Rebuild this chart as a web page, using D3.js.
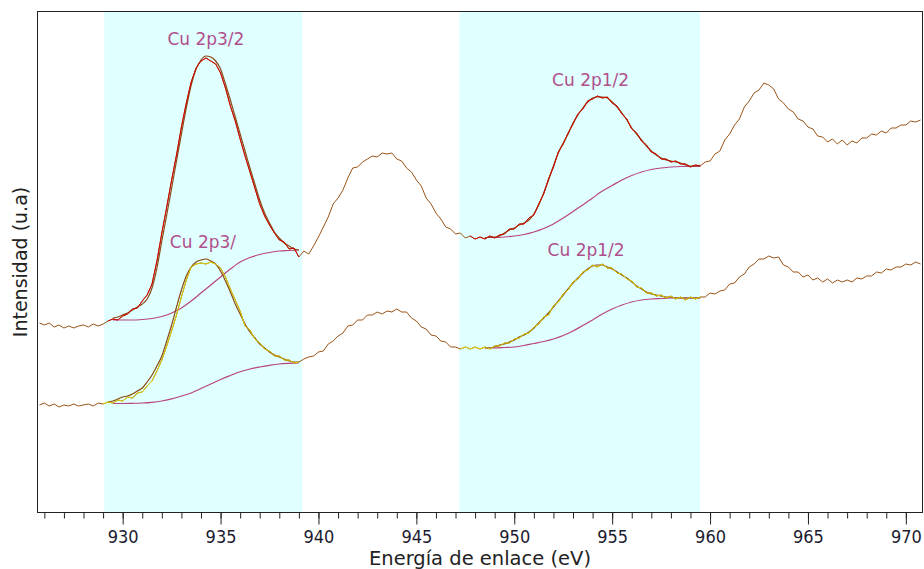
<!DOCTYPE html>
<html><head><meta charset="utf-8">
<script src="https://cdn.jsdelivr.net/npm/d3@7"></script>
<style>
html,body{margin:0;padding:0;background:#fff;}
svg{display:block;}
text{font-family:"DejaVu Sans",sans-serif;}
</style></head>
<body><svg id="chart" width="924" height="569"></svg>
<script>
// ---- data (binding energy in eV, intensity in arbitrary units) ----
const rawStart = 925.75, rawStep = 0.25;
const upperRaw = [190,188,190,186,188,185,187,185,187,188,186,189,187,189,
192,194,193,197,199,204,205,212,218,229,252,280,
306,333,358,386,410,431,445,452,455,452,449,440,
425,407,392,374,357,341,325,309,297,288,280,273,
271,264,265,256,262,259,267,276,286,296,309,315,
323,335,345,346,351,354,357,356,360,359,360,354,
352,345,341,333,327,315,309,300,294,286,284,279,
280,275,277,274,276,274,277,275,278,279,284,284,
289,289,295,298,309,319,334,346,361,369,380,389,
399,404,412,414,417,415,416,410,407,399,394,384,
380,372,368,361,359,354,354,351,352,349,349,346,
348,347,351,352,359,362,373,379,388,394,406,412,
420,423,430,428,424,414,410,404,401,394,392,386,
384,377,376,371,374,369,373,368,372,370,375,375,
379,378,382,380,385,385,388,388,392,391,393];
const lowerRaw = [108,110,107,109,106,108,107,109,107,108,109,107,110,109,
111,110,113,112,116,115,120,121,127,132,142,153,
167,182,198,216,233,246,249,250,249,251,249,245,
236,224,213,202,187,183,174,170,164,162,157,157,
153,153,150,151,154,156,157,161,162,169,172,177,
180,187,188,193,193,198,198,201,199,202,201,204,
201,201,195,192,186,184,178,177,172,171,166,166,
164,166,164,166,164,166,164,167,167,170,170,174,
175,179,180,186,189,196,198,207,211,219,223,231,
234,241,243,248,246,249,245,245,240,239,234,232,
226,225,220,220,217,218,215,217,214,216,213,216,
214,216,216,220,219,222,223,229,230,236,239,246,
249,254,254,257,255,256,248,246,241,241,236,238,
233,235,231,234,230,233,231,233,231,235,234,237,
237,241,240,244,243,246,246,249,248,251,249];

// fitted envelopes (0.25 eV steps)
const upperFit1Start = 929.5;
const upperFit1 = [195,196,198,200,203,206,209,214,225,245,272,298,325,352,379,405,428,444,453,457,456,452,444,429,413,396,379,362,345,329,313,300,290,281,275,270,267,264,263];
const upperFit2Start = 948.5;
const upperFit2 = [275,276,276,277,280,283,285,288,290,293,299,308,320,333,347,360,370,379,390,398,405,411,415,416,416,415,411,406,400,393,385,379,373,367,362,358,355,353,352,351,350,348,347,347,348];
const lowerFit1Start = 929.25;
const lowerFit1 = [111,112,114,116,117,119,122,125,131,138,147,157,172,188,206,223,237,246,251,253,254,252,249,242,232,221,209,199,189,181,175,169,165,161,158,156,154,152,151,151];
const lowerFit2Start = 948.5;
const lowerFit2 = [165,165,166,168,169,171,173,176,178,181,185,190,195,200,206,212,218,224,230,235,240,244,247,248,248,246,244,241,238,235,231,227,224,221,219,218,217,216,216,215,215,215,215,215,215];

// Shirley backgrounds (0.5 eV steps)
const upperBg1Start = 929.5;
const upperBg1 = [193,193,193,193.5,194.5,196.5,200,205,212,220,228,236,244,251,255.5,258.5,260.5,262,262.5,263];
const upperBg2Start = 948.5;
const upperBg2 = [275.5,275.5,276,277,278.5,281,284.5,289,295,301.5,308,315,322,327.5,333,337.5,341,343.5,345,346,346.5,346.5,346.5];
const lowerBg1Start = 929.5;
const lowerBg1 = [109.5,109.5,109.7,110,110.7,112,114.2,117,120,124.5,129,133.5,137.5,141.3,144,146,147.7,149,149.7,150.2];
const lowerBg2Start = 948.5;
const lowerBg2 = [165,165,165.5,166,167.5,169.5,171.5,174,177.5,182,187.5,193,199,204,208,211,213,214,214.5,215,215,215,215];

// fitting windows (eV)
const windowsUpper = [[929.1, 939.17], [947.6, 959.5]];
const windowsLower = [[929.0, 939.17], [947.2, 959.5]];
const bands = [[929.06, 939.17], [947.2, 959.48]];

// annotations: label, energy, intensity
const labelTexts = ["Cu 2p3/2", "Cu 2p3/", "Cu 2p1/2", "Cu 2p1/2"];
const labelEnergy = [934.25, 934.1, 953.9, 953.67];
const labelIntensity = [468, 265, 427, 257];

const xTicks = [930, 935, 940, 945, 950, 955, 960, 965, 970];
const xDomain = [925.65, 970.85];
const yDomain = [0, 502];
const xTitle = "Energía de enlace (eV)";
const yTitle = "Intensidad (u.a)";

// ---- drawing ----
const svg = d3.select("#chart");
const L = 37.5, R = 922.5, T = 11.5, B = 512.5;
const x = d3.scaleLinear().domain(xDomain).range([L, R]);
const y = d3.scaleLinear().domain(yDomain).range([513, 11]);

const toPts = (start, step, arr) => arr.map((v, i) => [start + i * step, v]);

svg.selectAll("rect.band").data(bands).join("rect")
  .attr("class", "band")
  .attr("x", d => x(d[0])).attr("y", T)
  .attr("width", d => x(d[1]) - x(d[0])).attr("height", B - T)
  .attr("fill", "#e0ffff");

const lineRaw = d3.line().x(d => x(d[0])).y(d => y(d[1]));
const lineSmooth = d3.line().x(d => x(d[0])).y(d => y(d[1])).curve(d3.curveMonotoneX);

const up = toPts(rawStart, rawStep, upperRaw);
const lo = toPts(rawStart, rawStep, lowerRaw);

const g = svg.append("g");
function path(pts, color, w, gen) {
  g.append("path").attr("d", (gen || lineRaw)(pts)).attr("fill", "none")
    .attr("stroke", color).attr("stroke-width", w).attr("stroke-linejoin", "round");
}
path(up, "#9a5418", 1);
path(lo, "#9a5418", 1);

const bgColor = "#b8447e";
path(toPts(upperBg1Start, 0.5, upperBg1), bgColor, 1.2, lineSmooth);
path(toPts(upperBg2Start, 0.5, upperBg2), bgColor, 1.2, lineSmooth);
path(toPts(lowerBg1Start, 0.5, lowerBg1), bgColor, 1.2, lineSmooth);
path(toPts(lowerBg2Start, 0.5, lowerBg2), bgColor, 1.2, lineSmooth);

const fitColor = "#8a4a16";
path(toPts(upperFit1Start, 0.25, upperFit1), fitColor, 1.2, lineSmooth);
path(toPts(upperFit2Start, 0.25, upperFit2), fitColor, 1.2, lineSmooth);
path(toPts(lowerFit1Start, 0.25, lowerFit1), fitColor, 1.2, lineSmooth);
path(toPts(lowerFit2Start, 0.25, lowerFit2), fitColor, 1.2, lineSmooth);

windowsUpper.forEach(w => path(up.filter(d => d[0] >= w[0] && d[0] <= w[1]), "#d40000", 1));
windowsLower.forEach(w => path(lo.filter(d => d[0] >= w[0] && d[0] <= w[1]), "#dcd400", 1));

// labels
svg.selectAll("text.lbl").data(labelTexts).join("text")
  .attr("class", "lbl")
  .attr("x", (d, i) => x(labelEnergy[i])).attr("y", (d, i) => y(labelIntensity[i]))
  .attr("text-anchor", "middle").attr("font-size", 17).attr("fill", "#b0508c")
  .text(d => d);

// frame
svg.append("rect").attr("x", L).attr("y", T).attr("width", R - L).attr("height", B - T)
  .attr("fill", "none").attr("stroke", "#222").attr("stroke-width", 1);

// x axis
const minorTicks = d3.range(926, 971, 1);
const axMinor = d3.axisBottom(x).tickValues(minorTicks).tickSize(6).tickFormat("");
const axMajor = d3.axisBottom(x).tickValues(xTicks).tickSize(12).tickPadding(6).tickFormat(d3.format("d"));
const gMinor = svg.append("g").attr("transform", `translate(0,${B})`).call(axMinor);
const gMajor = svg.append("g").attr("transform", `translate(0,${B})`).call(axMajor);
[gMinor, gMajor].forEach(gg => {
  gg.select(".domain").remove();
  gg.selectAll("line").attr("stroke", "#222");
});
gMajor.selectAll("text").attr("font-size", 18).attr("fill", "#1c1c30")
  .attr("font-family", '"DejaVu Sans Condensed","DejaVu Sans",sans-serif')
  .style("font-stretch", "condensed");

svg.append("text").attr("x", 480).attr("y", 565).attr("text-anchor", "middle")
  .attr("font-size", 19.5).attr("fill", "#222").text(xTitle);
svg.append("text").attr("transform", "translate(27,262) rotate(-90)")
  .attr("text-anchor", "middle").attr("font-size", 19).attr("fill", "#222").text(yTitle);
</script></body></html>
